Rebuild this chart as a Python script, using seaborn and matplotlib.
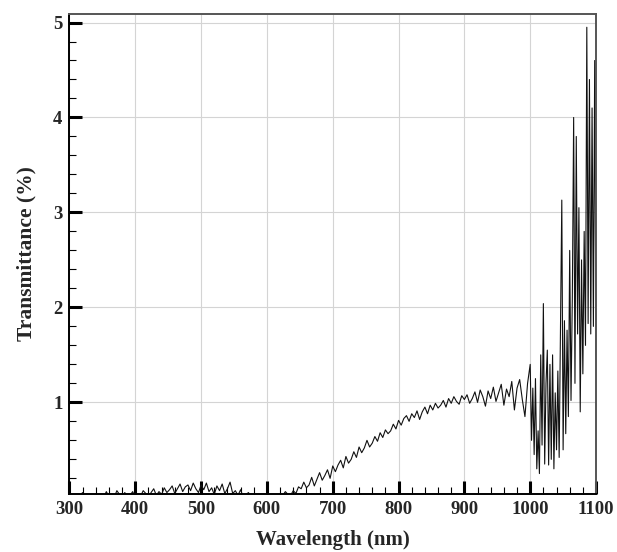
import pandas as pd
import seaborn as sns
import matplotlib.pyplot as plt
from matplotlib.ticker import MultipleLocator

# wavelength grids (nm) and transmittance (%)
wl_low = list(range(300, 652, 4))
t_low = [0.01, 0.03, 0.00, 0.00, 0.02, 0.05, 0.01, 0.00, 0.02, 0.00, 0.04, 0.01, 0.03,
         0.00, 0.06, 0.01, 0.02, 0.00, 0.07, 0.03, 0.00, 0.05, 0.01, 0.02, 0.06, 0.00,
         0.03, 0.01, 0.07, 0.04, 0.00, 0.05, 0.09, 0.02, 0.06, 0.03, 0.10, 0.05,
         0.08, 0.12, 0.04, 0.09, 0.14, 0.06, 0.11, 0.13, 0.07, 0.15, 0.09, 0.05, 0.13,
         0.08, 0.15, 0.06, 0.10, 0.03, 0.12, 0.07, 0.14, 0.04, 0.09, 0.16, 0.04,
         0.07, 0.02, 0.08, 0.00, 0.03, 0.05, 0.00, 0.02, 0.00, 0.03, 0.01, 0.00, 0.02,
         0.00, 0.01, 0.03, 0.00, 0.04, 0.02, 0.06, 0.03, 0.02, 0.07, 0.04, 0.11]

wl_mid = list(range(652, 1000, 4))
t_mid = [0.09, 0.16, 0.10, 0.13, 0.21, 0.12, 0.19, 0.26, 0.18, 0.23, 0.29, 0.20, 0.33,
         0.27, 0.34, 0.39, 0.31, 0.43, 0.36, 0.40, 0.48, 0.42, 0.53, 0.47, 0.52,
         0.60, 0.53, 0.57, 0.64, 0.59, 0.68, 0.63, 0.71, 0.67, 0.70, 0.77, 0.72, 0.81,
         0.76, 0.83, 0.86, 0.80, 0.88, 0.84, 0.91, 0.82, 0.90, 0.95, 0.88, 0.97,
         0.92, 0.99, 0.94, 0.97, 1.02, 0.95, 1.04, 0.99, 1.06, 1.01, 0.98, 1.07, 1.03,
         1.08, 0.99, 1.04, 1.11, 1.00, 1.13, 1.06, 0.96, 1.12, 1.04, 1.16, 1.01,
         1.10, 1.19, 0.97, 1.14, 1.06, 1.22, 0.92, 1.15, 1.24, 1.03, 0.85, 1.20]

wl_high = list(range(1000, 1102, 2))
t_high = [1.40, 0.60, 1.15, 0.45, 1.25, 0.30, 0.70, 0.25, 1.50, 0.55,
          2.04, 0.35, 1.20, 1.55, 0.34, 1.40, 0.40, 1.50, 0.30, 1.10,
          0.50, 1.33, 0.42, 1.75, 3.13, 0.50, 1.86, 0.67, 1.76, 0.85,
          2.60, 1.02, 2.10, 4.00, 1.20, 3.80, 1.72, 3.05, 0.90, 2.50,
          1.30, 2.80, 1.60, 4.95, 1.83, 4.40, 1.72, 4.10, 1.80, 4.60,
          1.45]

x_ticks = [300, 400, 500, 600, 700, 800, 900, 1000, 1100]
y_ticks = [1, 2, 3, 4, 5]

df = pd.DataFrame({"wl": wl_low + wl_mid + wl_high,
                   "T": t_low + t_mid + t_high})

sns.set_style("ticks")
plt.rcParams["font.family"] = ["Liberation Serif", "DejaVu Serif"]
plt.rcParams["font.weight"] = "bold"

fig = plt.figure(figsize=(6.17, 5.52), dpi=100)
ax = fig.add_axes([0.1126, 0.1051, 0.8534, 0.8696])

ax.grid(True, which="major", color="#d4d4d4", linewidth=0.8)
ax.set_axisbelow(True)

sns.lineplot(data=df, x="wl", y="T", estimator=None, sort=False,
             color="#111111", linewidth=0.8, ax=ax)

ax.set_xlim(300, 1100)
ax.set_ylim(0.035, 5.09)
ax.set_xticks(x_ticks)
ax.set_yticks(y_ticks)
ax.xaxis.set_minor_locator(MultipleLocator(20))
ax.yaxis.set_minor_locator(MultipleLocator(0.2))

ax.tick_params(which="major", direction="in", length=9.5, width=2.2,
               labelsize=13.5, color="black", top=False, right=False)
ax.tick_params(which="minor", direction="in", length=5, width=0.8,
               color="black", top=False, right=False)
ax.tick_params(axis="x", which="major", pad=5)
ax.tick_params(axis="y", which="major", pad=5)
for lab in ax.get_xticklabels() + ax.get_yticklabels():
    lab.set_fontweight("bold")

for side in ["left", "bottom"]:
    ax.spines[side].set_color("black")
    ax.spines[side].set_linewidth(1.4)
for side in ["top", "right"]:
    ax.spines[side].set_color("#555555")
    ax.spines[side].set_linewidth(1.4)

ax.set_xlabel("Wavelength (nm)", fontsize=15, fontweight="bold", labelpad=9)
ax.set_ylabel("Transmittance (%)", fontsize=15.5, fontweight="bold", labelpad=12)

fig.savefig("out.png", dpi=100)
